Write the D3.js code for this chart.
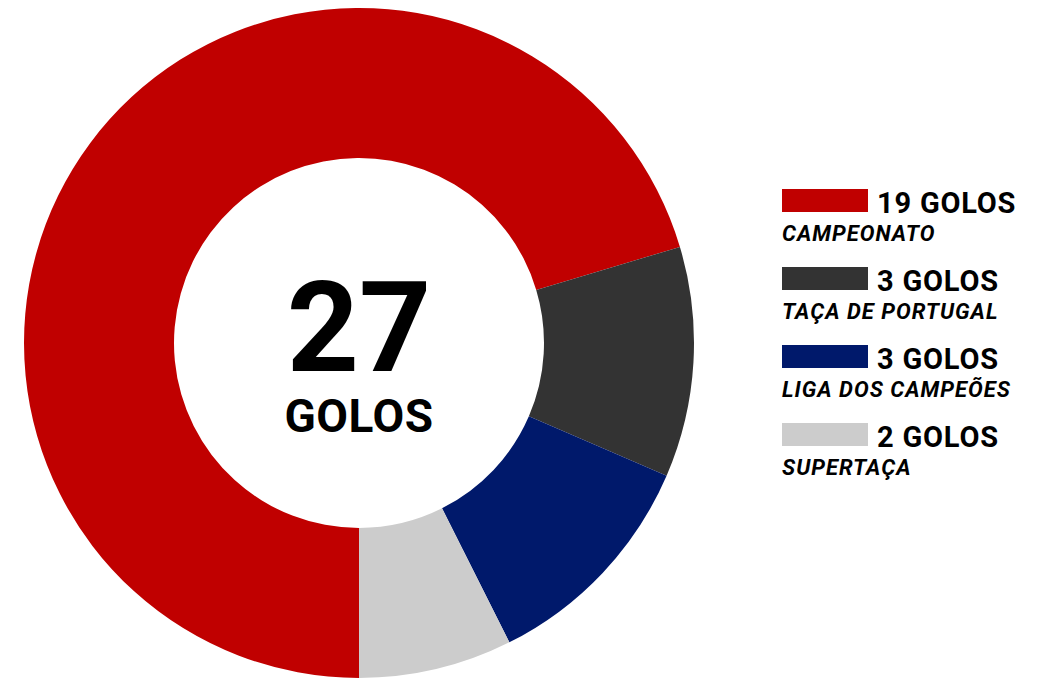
<!DOCTYPE html>
<html>
<head>
<meta charset="utf-8">
<script src="https://cdn.jsdelivr.net/npm/d3@7"></script>
<style>
	body { margin: 0; background: #fff; }
	svg { display: block; font-family: Roboto, 'Noto Sans', sans-serif; }
</style>
</head>
<body>
<svg id="chart" width="1045" height="689"></svg>
<script>

var competitions = [ 'CAMPEONATO', 'TAÇA DE PORTUGAL', 'LIGA DOS CAMPEÕES', 'SUPERTAÇA' ];
var goals = [ 19, 3, 3, 2 ];
var colors = [ '#c00000', '#333333', '#00196b', '#cccccc' ];

var data = competitions.map( function ( c, i ) {
	return { name: c, goals: goals[i], color: colors[i] };
} );

var total = d3.sum( goals );

var svg = d3.select( '#chart' );

var cx = 359, cy = 343;
var outer = 335, inner = 185;

var pie = d3.pie()
	.sort( null )
	.value( function ( d ) { return d.goals; } )
	.startAngle( -Math.PI )
	.endAngle( Math.PI );

var arc = d3.arc().innerRadius( inner ).outerRadius( outer );

var donut = svg.append( 'g' )
	.attr( 'transform', 'translate(' + cx + ',' + cy + ')' );

donut.selectAll( 'path' )
	.data( pie( data ) )
	.enter()
	.append( 'path' )
	.attr( 'd', arc )
	.attr( 'fill', function ( d ) { return d.data.color; } );

// total in the middle, one text block
var centre = donut.append( 'text' )
	.attr( 'text-anchor', 'middle' )
	.style( 'font-weight', 'bold' );

centre.append( 'tspan' )
	.attr( 'x', 0 )
	.attr( 'y', 28 )
	.style( 'font-size', '126px' )
	.text( total );

centre.append( 'tspan' )
	.attr( 'x', 0 )
	.attr( 'y', 89 )
	.style( 'font-size', '46px' )
	.style( 'letter-spacing', '0.5px' )
	.text( 'GOLOS' );

// legend
var legend = svg.append( 'g' )
	.attr( 'transform', 'translate(782,189)' );

var rows = legend.selectAll( 'g.row' )
	.data( data )
	.enter()
	.append( 'g' )
	.classed( 'row', true )
	.attr( 'transform', function ( d, i ) { return 'translate(0,' + ( i * 78 ) + ')'; } );

rows.append( 'rect' )
	.attr( 'width', 86 )
	.attr( 'height', 23 )
	.attr( 'fill', function ( d ) { return d.color; } );

rows.append( 'text' )
	.attr( 'x', 95 )
	.attr( 'y', 24 )
	.style( 'font-size', '29px' )
	.style( 'font-weight', 'bold' )
	.style( 'letter-spacing', '0.8px' )
	.text( function ( d ) { return d.goals + ' GOLOS'; } );

rows.append( 'text' )
	.attr( 'x', 0 )
	.attr( 'y', 52 )
	.style( 'font-size', '22px' )
	.style( 'font-weight', 'bold' )
	.style( 'font-style', 'italic' )
	.style( 'letter-spacing', '1px' )
	.text( function ( d ) { return d.name; } );

</script>
</body>
</html>
